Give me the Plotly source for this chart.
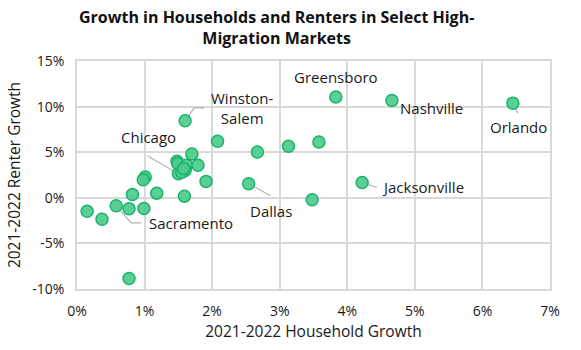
import plotly.graph_objects as go

# 2021-2022 household growth (%) and renter growth (%) by market
household_growth = [3.83, 4.66, 6.45, 1.60, 2.08, 2.67, 3.13, 3.58, 1.70,
                    1.48, 1.49, 1.62, 1.79, 1.50, 1.60, 1.55, 1.58,
                    1.91, 2.54, 1.01, 0.98, 0.82, 1.18, 1.59, 3.48,
                    4.22, 0.15, 0.37, 0.58, 0.77, 0.99, 0.77]
renter_growth = [11.05, 10.68, 10.38, 8.44, 6.20, 5.02, 5.65, 6.12, 4.80,
                 4.00, 3.75, 3.56, 3.56, 2.64, 3.00, 2.80, 3.20,
                 1.80, 1.54, 2.27, 1.98, 0.36, 0.51, 0.18, -0.22,
                 1.68, -1.47, -2.35, -0.88, -1.21, -1.18, -8.85]

x_ticks = [0, 1, 2, 3, 4, 5, 6, 7]
x_tick_labels = ["0%", "1%", "2%", "3%", "4%", "5%", "6%", "7%"]
y_ticks = [-10, -5, 0, 5, 10, 15]
y_tick_labels = ["-10%", "-5%", "0%", "5%", "10%", "15%"]

# labelled markets: name, data index, text offset (px), leader path offsets (px)
labels = [
    ("Greensboro", 0, (0, -20), None),
    ("Nashville", 1, (40, 8), None),
    ("Orlando", 2, (6, 24), [(0, 0), (5, 10)]),
    ("Winston-<br>Salem", 3, (57, -13), [(0, 0), (9, -13), (19, -13)]),
    ("Chicago", 13, (-30, -37), [(0, 0), (-31, -18)]),
    ("Dallas", 18, (22, 27), [(0, 0), (22, 12)]),
    ("Jacksonville", 25, (61, 5), [(0, 0), (15, 5)]),
    ("Sacramento", 28, (75, 17), [(0, 0), (15, 17), (25, 17)]),
]

L, R, T, B = 77, 31, 61, 61
W, H = 581, 350
pw, ph = W - L - R, H - T - B
xr, yr = (0, 7), (-10, 15)
px_x = (xr[1] - xr[0]) / pw
px_y = (yr[1] - yr[0]) / ph

fig = go.Figure()

# leader lines (drawn below markers)
for name, i, toff, path in labels:
    if path:
        xs = [household_growth[i] + dx * px_x for dx, dy in path]
        ys = [renter_growth[i] - dy * px_y for dx, dy in path]
        fig.add_trace(go.Scatter(x=xs, y=ys, mode="lines",
                                 line=dict(color="#b3b3b3", width=1.2),
                                 hoverinfo="skip", showlegend=False))

fig.add_trace(go.Scatter(
    x=household_growth, y=renter_growth, mode="markers",
    marker=dict(size=12, color="rgba(78,203,142,0.92)",
                line=dict(color="#19b46c", width=1.5)),
    showlegend=False))

for name, i, toff, path in labels:
    fig.add_annotation(x=household_growth[i], y=renter_growth[i], text=name,
                       showarrow=True, arrowcolor="rgba(0,0,0,0)",
                       ax=toff[0], ay=toff[1], xref="x", yref="y",
                       font=dict(family="Open Sans", size=15, color="#1a1a1a"))

# title as a paper annotation (centered slightly left of page centre)
fig.add_annotation(
    text="<b>Growth in Households and Renters in Select High-<br>Migration Markets</b>",
    xref="paper", yref="paper", x=(276 - L) / pw, y=1 + (T - 28) / ph,
    xanchor="center", yanchor="middle", showarrow=False,
    font=dict(family="Open Sans", size=16, color="#111"))

fig.update_layout(
    width=W, height=H,
    margin=dict(l=L, r=R, t=T, b=B),
    paper_bgcolor="white", plot_bgcolor="white",
    font=dict(family="Open Sans", size=14, color="#1a1a1a"),
    xaxis=dict(range=list(xr), tickvals=x_ticks, ticktext=x_tick_labels,
               ticklabelstandoff=8,
               showgrid=True, gridcolor="#d9d9d9", gridwidth=1.5,
               zeroline=False, showline=True, linecolor="#d9d9d9", linewidth=1.5,
               mirror=True, ticks="",
               title=dict(text="2021-2022 Household Growth", standoff=6,
                          font=dict(family="Open Sans", size=15.5))),
    yaxis=dict(range=list(yr), tickvals=y_ticks, ticktext=y_tick_labels,
               ticklabelstandoff=8,
               showgrid=True, gridcolor="#d9d9d9", gridwidth=1.5,
               zeroline=False, showline=True, linecolor="#d9d9d9", linewidth=1.5,
               mirror=True, ticks="",
               title=dict(text="2021-2022 Renter Growth", standoff=8,
                          font=dict(family="Open Sans", size=15.5))),
)

fig.write_html("out.html")
